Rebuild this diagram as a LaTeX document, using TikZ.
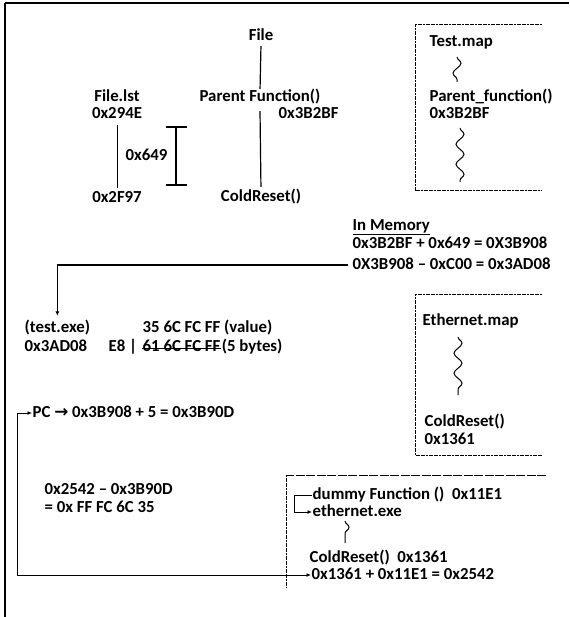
\documentclass[tikz,border=0pt]{standalone}
\usepackage{fontspec}
\setmainfont{Carlito}
\newfontfamily\arrowfont{DejaVu Sans}
\usetikzlibrary{arrows.meta,decorations.pathmorphing}
\begin{document}
\begin{tikzpicture}[x=1pt,y=-1pt,
  txt/.style={inner sep=0.5pt,text height=10.5pt,text depth=2.5pt,font=\fontsize{16.8}{19}\selectfont\bfseries},
  lt/.style={txt,anchor=west},
  ln/.style={line width=1.2pt},
  conn/.style={line width=1pt,-{Latex[length=4.5pt,width=4pt]}},
  dconn/.style={line width=1pt,{Latex[length=4.5pt,width=4pt]}-{Latex[length=4.5pt,width=4pt]}},
  fine/.style={line width=1pt,dash pattern=on 2pt off 0.6pt},
  longdash/.style={line width=1pt,dash pattern=on 9pt off 1.5pt},
  wavy/.style={line width=1pt,decorate,decoration={snake,amplitude=4pt,segment length=20pt}}]
\useasboundingbox (0,0) rectangle (569,617);
% outer frame
\coordinate (fr0) at (5,3);
\coordinate (fr1) at (569,3);
\coordinate (fr2) at (5,617);
\draw[line width=2.5pt] (fr1) -- (fr0);
\draw[line width=1.5pt] (fr0) -- (fr2);

% file / parent function
\node[txt] (file) at (261,37) {File};
\node[txt] (pf) at (260,98) {Parent Function()};
\node[lt] (pfaddr) at (278,115) {0x3B2BF};
\node[txt] (cr) at (261,198) {ColdReset()};
\draw[ln,shorten <=2pt,shorten >=2pt] (file.south) -- (pf.north);
\draw[ln,shorten >=4pt] ([yshift=-6pt]pf.south) -- (cr.north);

% File.lst
\node[txt] (flst) at (117,98) {File.lst};
\node[txt] (a294) at (117,115) {0x294E};
\node[txt] (a2f97) at (117,199) {0x2F97};
\node[lt] (off) at (125,157) {0x649};
\draw[line width=0.8pt,shorten <=3pt,shorten >=4pt] (a294.south) -- (a2f97.north);
\coordinate (ibt) at (176,127);
\coordinate (ibb) at (176,185);
\draw[ln] (ibt) -- (ibb);
\draw[ln] ([xshift=-10pt]ibt) -- ([xshift=11pt]ibt);
\draw[ln] ([xshift=-10pt]ibb) -- ([xshift=11pt]ibb);

% Test.map box
\coordinate (tm1) at (542,25);
\coordinate (tm2) at (415,25);
\coordinate (tm3) at (415,191);
\coordinate (tm4) at (542,191);
\draw[fine] (tm1) -- (tm2) -- (tm3) -- (tm4);
\node[lt] (tmap) at (429,43) {Test.map};
\node[lt] (pfn) at (429,98) {Parent\_function()};
\node[lt] (tmaddr) at (429,115) {0x3B2BF};
\coordinate (w1a) at (457,57);
\coordinate (w1b) at (457,82);
\draw[wavy] (w1a) -- (w1b);
\coordinate (w2a) at (460,128);
\coordinate (w2b) at (460,182);
\draw[wavy] (w2a) -- (w2b);

% In memory
\node[lt] (mem0) at (352,226) {\underline{In Memory}};
\node[lt] (mem1) at (352,244) {0x3B2BF + 0x649 = 0X3B908};
\node[lt] (mem2) at (352,265) {0X3B908 – 0xC00 = 0x3AD08};

% test.exe
\node[lt] (testexe) at (24,328) {(test.exe)};
\node[lt] (ta) at (24,347) {0x3AD08};
\node[lt] (val) at (142,328) {35 6C FC FF (value)};
\node[lt] (e8) at (108,347) {E8 |};
\node[lt] (struck) at (142,347) {61 6C FC FF};
\node[lt] (bytes) at (struck.east) {(5 bytes)};
\draw[line width=1pt] ([yshift=-1pt]struck.west) -- ([yshift=-1pt]struck.east);
\draw[conn,line width=1.3pt] ([xshift=-4pt]mem2.west) -| ([yshift=5pt]testexe.north);

% PC
\node[lt] (pc) at (32,413) {PC {\arrowfont\bfseries →} 0x3B908 + 5 = 0x3B90D};
\node[lt] (calc1) at (44,490) {0x2542 – 0x3B90D};
\node[lt] (calc2) at (44,508) {= 0x FF FC 6C 35};

% Ethernet.map box
\coordinate (em1) at (542,294);
\coordinate (em2) at (415,294);
\coordinate (em3) at (415,455);
\coordinate (em4) at (542,455);
\draw[fine] (em1) -- (em2) -- (em3) -- (em4);
\node[lt] (ethmap) at (422,321) {Ethernet.map};
\coordinate (w3a) at (458,337);
\coordinate (w3b) at (458,395);
\draw[wavy] (w3a) -- (w3b);
\node[lt] (ecr) at (424,422) {ColdReset()};
\node[lt] (eaddr) at (424,440) {0x1361};

% bottom box
\coordinate (bb1) at (546,475);
\coordinate (bb2) at (286,475);
\coordinate (bb3) at (286,588);
\draw[longdash] (bb1) -- (bb2);
\draw[fine] (bb2) -- (bb3);
\node[lt] (dummy) at (312,495) {dummy Function ()\ \ 0x11E1};
\node[lt] (ethexe) at (312,512) {ethernet.exe};
\coordinate (w4a) at (345,521);
\coordinate (w4b) at (345,543);
\draw[wavy] (w4a) -- (w4b);
\node[lt] (bcr) at (309,558) {ColdReset()\ \ 0x1361};
\node[lt] (sum) at (311,575) {0x1361 + 0x11E1 = 0x2542};
\draw[conn] (dummy.west) -- ++(-18,0) |- (ethexe.west);

% long connector
\coordinate (lc) at (17,575);
\draw[dconn] (pc.west) -| (lc) -- (sum.west);
\end{tikzpicture}
\end{document}
